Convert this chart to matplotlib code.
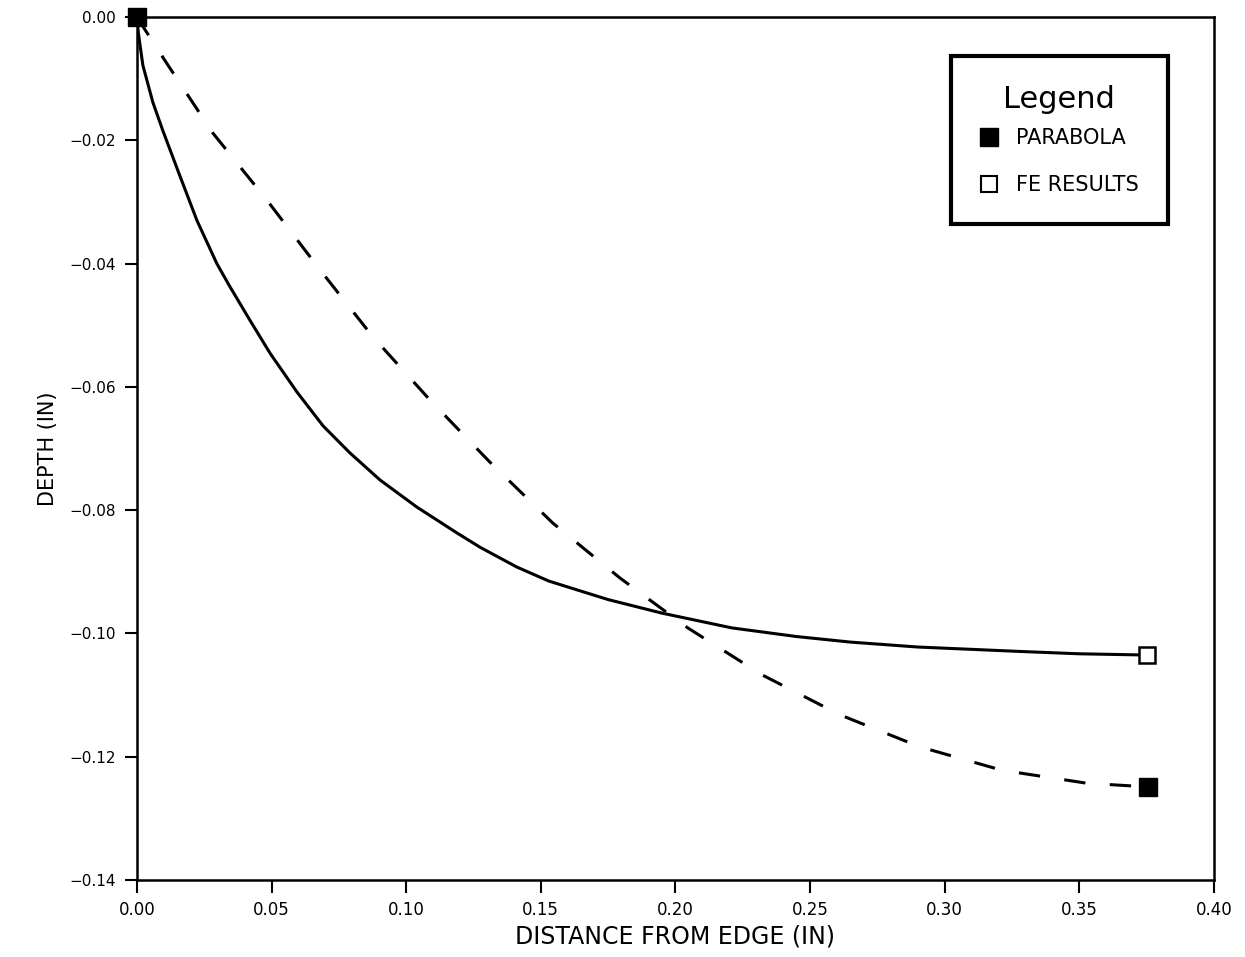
import matplotlib
matplotlib.use("Agg")
import matplotlib.pyplot as plt
from matplotlib.lines import Line2D

# FE results (solid line)
fe_x = [0.0, 0.0005, 0.0022, 0.0059, 0.0097, 0.0160, 0.0223, 0.0297, 0.0345, 0.0420,
        0.0494, 0.0594, 0.0691, 0.0791, 0.0903, 0.1040, 0.1189, 0.1274, 0.141, 0.153,
        0.175, 0.195, 0.221, 0.245, 0.265, 0.290, 0.327, 0.350, 0.375]
fe_y = [0.0, -0.0025, -0.0078, -0.0138, -0.0185, -0.0258, -0.0330, -0.0400, -0.0437, -0.0492,
        -0.0545, -0.0608, -0.0663, -0.0707, -0.0751, -0.0795, -0.0837, -0.0860, -0.0892, -0.0915,
        -0.0945, -0.0967, -0.0991, -0.1005, -0.1014, -0.1022, -0.1029, -0.1033, -0.1035]

# parabola (dashed line)
par_x = [0.0, 0.0111, 0.0282, 0.0483, 0.0680, 0.0877, 0.1088, 0.1311, 0.1545, 0.1794,
         0.2046, 0.2321, 0.2611, 0.2908, 0.3213, 0.3528, 0.3755]
par_y = [0.0, -0.0075, -0.0188, -0.0297, -0.0410, -0.0519, -0.0621, -0.0722, -0.0821, -0.0910,
         -0.0991, -0.1067, -0.1132, -0.1184, -0.1222, -0.1243, -0.1249]

xticks = [0.00, 0.05, 0.10, 0.15, 0.20, 0.25, 0.30, 0.35, 0.40]
yticks = [0.00, -0.02, -0.04, -0.06, -0.08, -0.10, -0.12, -0.14]

fig = plt.figure(figsize=(12.45, 9.57), dpi=100)
ax = fig.add_axes([0.110, 0.0805, 0.865, 0.9015])

ax.plot(fe_x, fe_y, color="black", lw=2.2, solid_capstyle="round",
        solid_joinstyle="round")
ax.plot(par_x, par_y, color="black", lw=2.2, dashes=(7, 8))

# end markers
ax.plot([par_x[0], par_x[-1]], [par_y[0], par_y[-1]], ls="none", marker="s",
        ms=13, color="black", clip_on=False, zorder=5)
ax.plot([fe_x[-1]], [fe_y[-1]], ls="none", marker="s", ms=12, mfc="white",
        mec="black", mew=1.8, clip_on=False, zorder=5)

ax.set_xlim(0, 0.40)
ax.set_ylim(-0.14, 0.0)
ax.set_xticks(xticks)
ax.set_xticklabels([f"{v:.2f}" for v in xticks], fontsize=12)
ax.set_yticks(yticks)
ax.set_yticklabels([f"{v:.2f}".replace("-", "\u2212") for v in yticks], fontsize=11)
ax.tick_params(direction="out", length=9, width=1.5, pad=6)
for s in ax.spines.values():
    s.set_linewidth(1.8)

ax.set_xlabel("DISTANCE FROM EDGE (IN)", fontsize=17, labelpad=4)
ax.set_ylabel("DEPTH (IN)", fontsize=15, labelpad=8)

handles = [
    Line2D([], [], ls="none", marker="s", ms=13, color="black"),
    Line2D([], [], ls="none", marker="s", ms=11, mfc="white", mec="black", mew=1.5),
]
leg = ax.legend(handles, ["PARABOLA", "FE RESULTS"], title="Legend",
                loc="upper right", bbox_to_anchor=(0.957, 0.955),
                fontsize=15, title_fontsize=22, frameon=True, fancybox=False,
                framealpha=1, edgecolor="black", borderpad=1.4, labelspacing=1.3,
                handletextpad=0.9, handlelength=0.8, borderaxespad=0)
leg.get_frame().set_linewidth(3)
leg._legend_box.sep = 10

fig.savefig("out.png", dpi=100)
